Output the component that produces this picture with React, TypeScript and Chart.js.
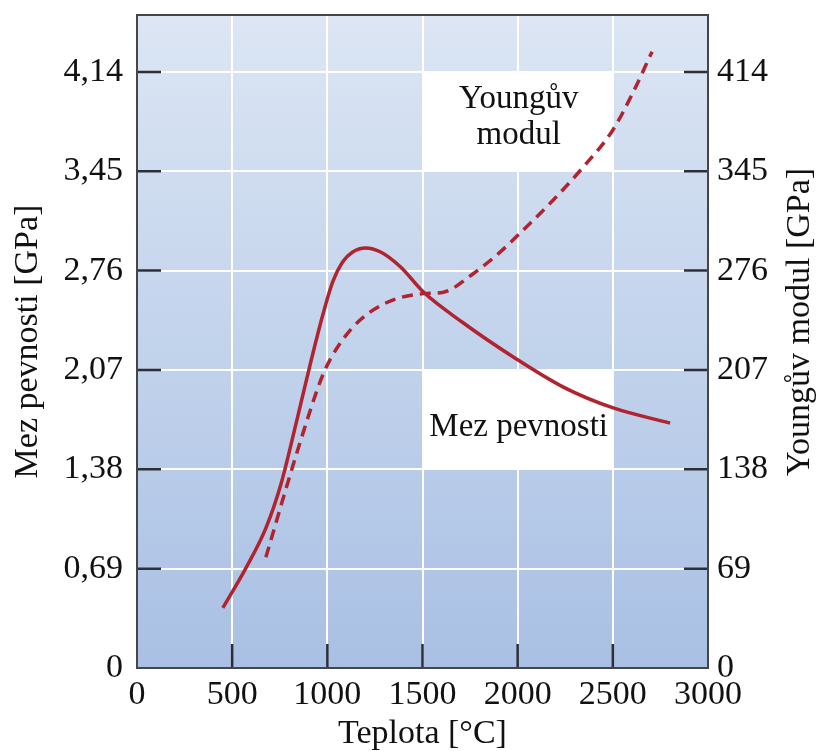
import React, { useEffect, useRef } from "react";
import { Chart, registerables } from "chart.js";

Chart.register(...registerables);

// ---- data ----
const strengthTemps = [451, 572, 677, 755, 834, 913, 976, 1028, 1080, 1133, 1201, 1280, 1385, 1505, 1715, 1977, 2240, 2502, 2801];
const strengthValues = [0.417, 0.694, 0.972, 1.271, 1.688, 2.125, 2.451, 2.681, 2.819, 2.889, 2.917, 2.889, 2.785, 2.611, 2.396, 2.16, 1.951, 1.806, 1.701];

const modulusTemps = [677, 860, 981, 1070, 1175, 1316, 1505, 1610, 1768, 1909, 2051, 2187, 2345, 2502, 2607, 2706];
const modulusValues = [77, 158, 205, 226, 242, 254, 260, 261, 274, 289, 307, 325, 348, 374, 400, 428];

const leftTickValues = [0, 0.69, 1.38, 2.07, 2.76, 3.45, 4.14];
const leftTickLabels = ["0", "0,69", "1,38", "2,07", "2,76", "3,45", "4,14"];
const rightTickValues = [0, 69, 138, 207, 276, 345, 414];
const rightTickLabels = ["0", "69", "138", "207", "276", "345", "414"];
const xTickValues = [0, 500, 1000, 1500, 2000, 2500, 3000];
const xTickLabels = ["0", "500", "1000", "1500", "2000", "2500", "3000"];

const xTitle = "Teplota [°C]";
const leftTitle = "Mez pevnosti [GPa]";
const rightTitle = "Youngův modul [GPa]";

// annotation boxes (data coordinates)
const boxes = [
  { x0: 1500, x1: 2500, y0: 3.45, y1: 4.14, lines: ["Youngův", "modul"] },
  { x0: 1500, x1: 2500, y0: 1.38, y1: 2.07, lines: ["Mez pevnosti"] },
];

const SERIF = '"Liberation Serif", "Times New Roman", serif';
const RED = "#b0232f";
const DARK = "#2e2f36";

const decorPlugin = {
  id: "decor",
  beforeDraw(chart: any) {
    const { ctx, chartArea } = chart;
    const g = ctx.createLinearGradient(0, chartArea.top, 0, chartArea.bottom);
    g.addColorStop(0, "#dce6f4");
    g.addColorStop(1, "#a9c0e4");
    ctx.save();
    ctx.fillStyle = g;
    ctx.fillRect(chartArea.left, chartArea.top, chartArea.right - chartArea.left, chartArea.bottom - chartArea.top);
    ctx.restore();
  },
  beforeDatasetsDraw(chart: any) {
    const { ctx, scales } = chart;
    const x = scales.x;
    const y = scales.y;
    ctx.save();
    boxes.forEach((b) => {
      const px0 = x.getPixelForValue(b.x0);
      const px1 = x.getPixelForValue(b.x1);
      const py0 = y.getPixelForValue(b.y1);
      const py1 = y.getPixelForValue(b.y0);
      ctx.fillStyle = "#ffffff";
      ctx.fillRect(px0, py0, px1 - px0, py1 - py0);
      ctx.fillStyle = "#111111";
      ctx.font = `33px ${SERIF}`;
      ctx.textAlign = "center";
      ctx.textBaseline = "alphabetic";
      const cx = (px0 + px1) / 2 + 1;
      if (b.lines.length === 2) {
        ctx.fillText(b.lines[0], cx, py0 + 36);
        ctx.fillText(b.lines[1], cx, py0 + 72);
      } else {
        ctx.fillText(b.lines[0], cx, py0 + 66);
      }
    });
    ctx.restore();
  },
  afterDraw(chart: any) {
    const { ctx, chartArea, scales } = chart;
    const { left, right, top, bottom } = chartArea;
    ctx.save();
    ctx.strokeStyle = DARK;
    ctx.lineWidth = 2.5;
    ctx.beginPath();
    leftTickValues.forEach((v) => {
      if (v === 0) return;
      const py = scales.y.getPixelForValue(v);
      ctx.moveTo(left, py);
      ctx.lineTo(left + 24, py);
    });
    rightTickValues.forEach((v) => {
      if (v === 0) return;
      const py = scales.y2.getPixelForValue(v);
      ctx.moveTo(right, py);
      ctx.lineTo(right - 24, py);
    });
    xTickValues.forEach((v) => {
      if (v === 0 || v === 3000) return;
      const px = scales.x.getPixelForValue(v);
      ctx.moveTo(px, bottom);
      ctx.lineTo(px, bottom - 24);
    });
    ctx.stroke();
    ctx.strokeStyle = "#45464c";
    ctx.lineWidth = 2;
    ctx.strokeRect(left, top, right - left, bottom - top);
    ctx.fillStyle = "#111111";
    ctx.font = `34px ${SERIF}`;
    ctx.textAlign = "center";
    ctx.textBaseline = "middle";
    ctx.translate(800, 322);
    ctx.rotate(-Math.PI / 2);
    ctx.fillText(rightTitle, 0, 0);
    ctx.restore();
  },
};

export default function App() {
  const canvasRef = useRef<HTMLCanvasElement | null>(null);

  useEffect(() => {
    if (!canvasRef.current) return;
    const tickFont = { family: SERIF, size: 34 };
    const titleFont = { family: SERIF, size: 34, lineHeight: 1 };
    const noPad = (s: any) => {
      s.paddingTop = 0;
      s.paddingBottom = 0;
      s.paddingLeft = 0;
      s.paddingRight = 0;
    };
    const chart = new Chart(canvasRef.current, {
      type: "line",
      data: {
        datasets: [
          {
            label: "Mez pevnosti",
            data: strengthTemps.map((t, i) => ({ x: t, y: strengthValues[i] })),
            yAxisID: "y",
            borderColor: RED,
            borderWidth: 3.5,
            pointRadius: 0,
            cubicInterpolationMode: "monotone",
            fill: false,
          },
          {
            label: "Youngův modul",
            data: modulusTemps.map((t, i) => ({ x: t, y: modulusValues[i] })),
            yAxisID: "y2",
            borderColor: RED,
            borderWidth: 3.5,
            borderDash: [11, 7],
            pointRadius: 0,
            cubicInterpolationMode: "monotone",
            fill: false,
          },
        ],
      },
      options: {
        responsive: false,
        animation: false,
        layout: { padding: { top: 15, left: 0, right: 0, bottom: 0 } },
        plugins: { legend: { display: false }, tooltip: { enabled: false } },
        scales: {
          x: {
            type: "linear",
            min: 0,
            max: 3000,
            afterBuildTicks: (s: any) => {
              s.ticks = xTickValues.map((v) => ({ value: v }));
            },
            afterFit: (s: any) => {
              s.height = 83;
              noPad(s);
            },
            ticks: {
              font: tickFont,
              color: "#111111",
              padding: 7,
              maxRotation: 0,
              autoSkip: false,
              callback: (_v: any, i: number) => xTickLabels[i],
            },
            grid: { color: "#ffffff", lineWidth: 2, drawTicks: false },
            border: { display: false },
            title: { display: true, text: xTitle, font: titleFont, color: "#111111", padding: { top: 0, bottom: 0 } },
          },
          y: {
            type: "linear",
            position: "left",
            min: 0,
            max: 4.535,
            afterBuildTicks: (s: any) => {
              s.ticks = leftTickValues.map((v) => ({ value: v }));
            },
            afterFit: (s: any) => {
              s.width = 137;
              noPad(s);
            },
            ticks: {
              font: tickFont,
              color: "#111111",
              padding: 14,
              autoSkip: false,
              callback: (_v: any, i: number) => leftTickLabels[i],
            },
            grid: { color: "#ffffff", lineWidth: 2, drawTicks: false },
            border: { display: false },
            title: { display: true, text: leftTitle, font: titleFont, color: "#111111", padding: { top: 11, bottom: 0 } },
          },
          y2: {
            type: "linear",
            position: "right",
            min: 0,
            max: 453.5,
            afterBuildTicks: (s: any) => {
              s.ticks = rightTickValues.map((v) => ({ value: v }));
            },
            afterFit: (s: any) => {
              s.width = 109;
              noPad(s);
            },
            ticks: {
              font: tickFont,
              color: "#111111",
              padding: 9,
              autoSkip: false,
              callback: (_v: any, i: number) => rightTickLabels[i],
            },
            grid: { display: false, drawTicks: false },
            border: { display: false },
            title: { display: false },
          },
        },
      },
      plugins: [decorPlugin],
    } as any);
    return () => chart.destroy();
  }, []);

  return (
    <div style={{ position: "absolute", left: 0, top: 0, width: 817, height: 751, background: "#ffffff" }}>
      <canvas ref={canvasRef} width={817} height={751} style={{ display: "block", width: 817, height: 751 }} />
    </div>
  );
}
